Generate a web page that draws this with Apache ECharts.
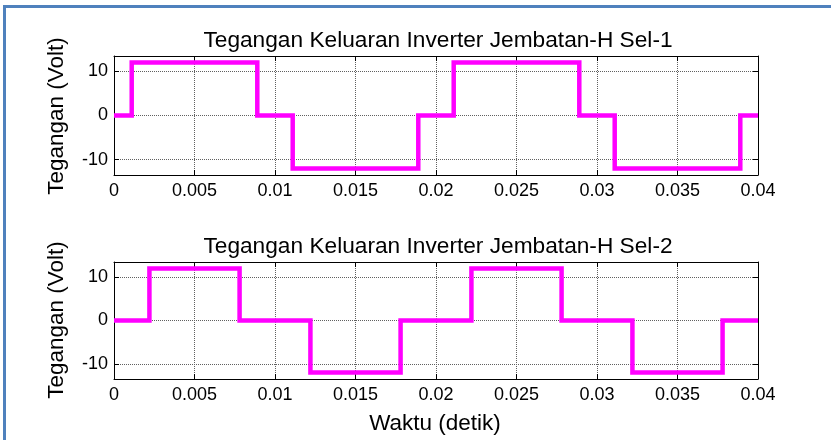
<!DOCTYPE html>
<html><head><meta charset="utf-8">
<script src="https://cdn.jsdelivr.net/npm/echarts@6/dist/echarts.min.js"></script>
<style>html,body{margin:0;padding:0;background:#fff}#c{width:831px;height:440px}</style>
</head><body><div id="c"></div>
<script>
// ---- data ----
const titles = ['Tegangan Keluaran Inverter Jembatan-H Sel-1', 'Tegangan Keluaran Inverter Jembatan-H Sel-2'];
const yLabel = 'Tegangan (Volt)';
const xLabel = 'Waktu (detik)';
const sel1Time = [0, 0.0011, 0.0089, 0.0111, 0.0189, 0.0211, 0.0289, 0.0311, 0.0389, 0.04];
const sel1Volt = [0, 12, 0, -12, 0, 12, 0, -12, 0, 0];
const sel2Time = [0, 0.0022, 0.0078, 0.0122, 0.0178, 0.0222, 0.0278, 0.0322, 0.0378, 0.04];
const sel2Volt = [0, 12, 0, -12, 0, 12, 0, -12, 0, 0];
const yTickValues = [-10, 0, 10];
const xMin = 0, xMax = 0.04, xStep = 0.005;
const yMin = -13.5, yMax = 13.5;

// ---- chart ----
const FONT = "'Liberation Sans', Arial, sans-serif";
const chart = echarts.init(document.getElementById('c'), null, { renderer: 'canvas' });

function zip(t, v) { return t.map((x, i) => [x, v[i]]); }

function xAxisMain(grid) {
  return {
    type: 'value', gridIndex: grid, position: 'bottom', min: xMin, max: xMax, interval: xStep,
    axisLine: { show: true, onZero: false, lineStyle: { color: '#000', width: 1 } },
    axisTick: { show: true, inside: true, length: 5, lineStyle: { color: '#000' } },
    axisLabel: { show: true, color: '#000', fontSize: 18, fontFamily: FONT, margin: 7,
      formatter: v => String(+v.toFixed(4)) },
    splitLine: { show: true, lineStyle: { color: '#606060', type: 'dotted', width: 1 } }
  };
}
function xAxisTop(grid) {
  return {
    type: 'value', gridIndex: grid, position: 'top', min: xMin, max: xMax, interval: xStep,
    axisLine: { show: true, onZero: false, lineStyle: { color: '#000', width: 1 } },
    axisTick: { show: true, inside: true, length: 5, lineStyle: { color: '#000' } },
    axisLabel: { show: false }, splitLine: { show: false }
  };
}
function yAxisMain(grid) {
  return {
    type: 'value', gridIndex: grid, position: 'left', min: yMin, max: yMax,
    axisLine: { show: true, onZero: false, lineStyle: { color: '#000', width: 1 } },
    axisTick: { show: true, inside: true, length: 5, customValues: yTickValues, lineStyle: { color: '#000' } },
    axisLabel: { show: true, color: '#000', fontSize: 18, fontFamily: FONT, margin: 6, customValues: yTickValues },
    splitLine: { show: true, lineStyle: { color: '#606060', type: 'dotted', width: 1 } }
  };
}
function yAxisRight(grid) {
  return {
    type: 'value', gridIndex: grid, position: 'right', min: yMin, max: yMax,
    axisLine: { show: true, onZero: false, lineStyle: { color: '#000', width: 1 } },
    axisTick: { show: true, inside: true, length: 5, customValues: yTickValues, lineStyle: { color: '#000' } },
    axisLabel: { show: false }, splitLine: { show: false }
  };
}

const lineStyle = { color: '#ff00ff', width: 4.5, cap: 'butt', join: 'miter' };

chart.setOption({
  animation: false,
  backgroundColor: '#fff',
  textStyle: { fontFamily: FONT },
  title: [
    { text: titles[0], left: 433, top: 24, textAlign: 'center',
      textStyle: { fontSize: 22.7, fontWeight: 'normal', color: '#000', fontFamily: FONT } },
    { text: titles[1], left: 433, top: 230, textAlign: 'center',
      textStyle: { fontSize: 22.7, fontWeight: 'normal', color: '#000', fontFamily: FONT } }
  ],
  grid: [
    { left: 114, right: 73, top: 56, height: 119 },
    { left: 114, right: 73, top: 262, height: 117 }
  ],
  xAxis: [xAxisMain(0), xAxisTop(0), xAxisMain(1), xAxisTop(1)],
  yAxis: [yAxisMain(0), yAxisRight(0), yAxisMain(1), yAxisRight(1)],
  series: [
    { type: 'line', xAxisIndex: 0, yAxisIndex: 0, data: zip(sel1Time, sel1Volt), step: 'end',
      showSymbol: false, lineStyle: lineStyle, z: 5 },
    { type: 'line', xAxisIndex: 2, yAxisIndex: 2, data: zip(sel2Time, sel2Volt), step: 'end',
      showSymbol: false, lineStyle: lineStyle, z: 5 }
  ],
  graphic: [
    { type: 'rect', shape: { x: 3, y: 5, width: 828, height: 3 }, style: { fill: '#4f81bd' }, silent: true },
    { type: 'rect', shape: { x: 3, y: 5, width: 3, height: 435 }, style: { fill: '#4f81bd' }, silent: true },
    { type: 'text', x: 57, y: 116, rotation: Math.PI / 2,
      style: { text: yLabel, font: '22.5px ' + FONT, fill: '#000', textAlign: 'center', textVerticalAlign: 'middle' } },
    { type: 'text', x: 57, y: 320, rotation: Math.PI / 2,
      style: { text: yLabel, font: '22.5px ' + FONT, fill: '#000', textAlign: 'center', textVerticalAlign: 'middle' } },
    { type: 'text', x: 435, y: 424,
      style: { text: xLabel, font: '22.5px ' + FONT, fill: '#000', textAlign: 'center', textVerticalAlign: 'middle' } }
  ]
});
</script>
</body></html>
